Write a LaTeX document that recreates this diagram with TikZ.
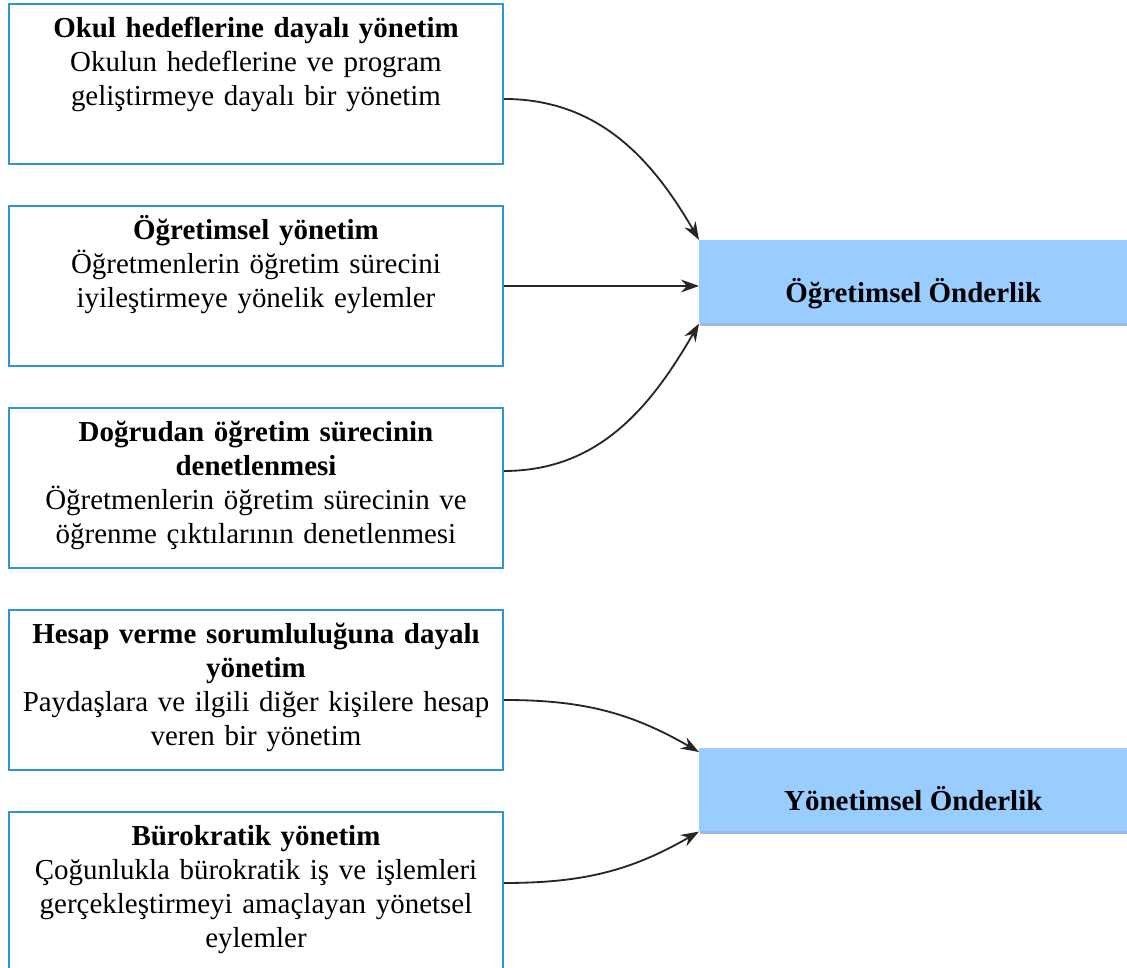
\documentclass[tikz,border=0pt]{standalone}
\usepackage{fontspec}
\setmainfont{Liberation Serif}
\definecolor{edgeblue}{RGB}{46, 149, 213}
\definecolor{leadblue}{RGB}{153, 204, 255}
\definecolor{leadshade}{RGB}{160, 184, 220}
\definecolor{arrowgray}{RGB}{38, 38, 38}
\usetikzlibrary{arrows.meta, positioning, calc, shadows}

\begin{document}
\begin{tikzpicture}[
  yonbox/.style={draw=edgeblue, line width=1.4pt, anchor=north west, minimum width=12.35cm,
    text width=11.8cm, inner xsep=0.2cm, inner ysep=0.25cm, text height=0.6cm, text depth=2.9cm,
    align=center, font=\fontsize{20.6}{24}\selectfont},
  ondbox/.style={fill=leadblue, anchor=north west, minimum width=10.7cm, inner sep=0pt,
    text height=1.55cm, text depth=0.525cm, font=\fontsize{20.6}{24}\selectfont\bfseries,
    drop shadow={shadow xshift=0.02cm, shadow yshift=-0.075cm, fill=leadshade, opacity=1}},
  ok/.style={-{Stealth[length=0.45cm, width=0.32cm]}, line width=1.3pt, draw=arrowgray}
]
  \useasboundingbox (0,0) rectangle (28.175,-24.2);

  % left column
  \node[yonbox] (okul) at (0.2,-0.075) {
    \textbf{Okul hedeflerine dayalı yönetim}\\
    Okulun hedeflerine ve program\\
    geliştirmeye dayalı bir yönetim
  };
  \node[yonbox] (ogryon) at (0.2,-5.125) {
    \textbf{Öğretimsel yönetim}\\
    Öğretmenlerin öğretim sürecini\\
    iyileştirmeye yönelik eylemler
  };
  \node[yonbox] (dogrudan) at (0.2,-10.175) {
    \textbf{Doğrudan öğretim sürecinin}\\
    \textbf{denetlenmesi}\\
    Öğretmenlerin öğretim sürecinin ve\\
    öğrenme çıktılarının denetlenmesi
  };
  \node[yonbox] (hesap) at (0.2,-15.225) {
    \textbf{Hesap verme sorumluluğuna dayalı}\\
    \textbf{yönetim}\\
    Paydaşlara ve ilgili diğer kişilere hesap\\
    veren bir yönetim
  };
  \node[yonbox] (burokr) at (0.2,-20.275) {
    \textbf{Bürokratik yönetim}\\
    Çoğunlukla bürokratik iş ve işlemleri\\
    gerçekleştirmeyi amaçlayan yönetsel\\
    eylemler
  };

  % right column
  \node[ondbox] (ogrond) at (17.475,-6.0) {Öğretimsel Önderlik};
  \node[ondbox] (yonond) at (17.475,-18.7) {Yönetimsel Önderlik};

  \draw[ok] ([yshift=-0.375cm]okul.east) to[out=0, in=120] (ogrond.north west);
  \draw[ok] (ogryon.east) -- (ogryon.east -| ogrond.west);
  \draw[ok] ([yshift=0.425cm]dogrudan.east) to[out=0, in=240] (ogrond.south west);
  \draw[ok] ([yshift=-0.25cm]hesap.east) to[out=0, in=150] ([yshift=-0.1cm]yonond.north west);
  \draw[ok] ([yshift=0.225cm]burokr.east) to[out=0, in=210] (yonond.south west);
\end{tikzpicture}
\end{document}
